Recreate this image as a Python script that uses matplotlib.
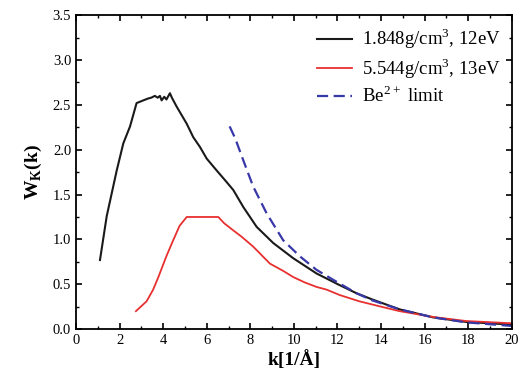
import matplotlib
matplotlib.use("Agg")
import matplotlib.pyplot as plt
from matplotlib.ticker import MultipleLocator, FormatStrFormatter

plt.rcParams['font.family'] = ['Liberation Serif', 'DejaVu Serif']
plt.rcParams['mathtext.fontset'] = 'custom'
plt.rcParams['mathtext.rm'] = 'Liberation Serif'
plt.rcParams['mathtext.bf'] = 'Liberation Serif:bold'

k_black = [1.1, 1.41, 1.87, 2.17, 2.48, 2.78, 3.09, 3.3, 3.45, 3.62, 3.75, 3.85, 3.93, 4.05,
           4.15, 4.31, 4.4, 4.62, 5.08, 5.38, 5.69, 6.0, 6.45, 6.91, 7.22, 7.68, 8.29, 9.05,
           9.97, 11.04, 12.1, 12.87, 13.6, 14.85, 16.4, 17.9, 20.0]
w_black = [0.77, 1.26, 1.77, 2.07, 2.26, 2.52, 2.55, 2.57, 2.58, 2.60, 2.58, 2.60, 2.55, 2.59,
           2.56, 2.63, 2.58, 2.48, 2.29, 2.14, 2.03, 1.90, 1.77, 1.64, 1.55, 1.36, 1.14, 0.96,
           0.79, 0.62, 0.49, 0.40, 0.33, 0.22, 0.13, 0.08, 0.05]

k_red = [2.75, 3.24, 3.54, 3.78, 4.16, 4.46, 4.75, 5.08, 5.4, 5.69, 6.0, 6.53, 6.8, 7.22, 7.6,
         8.13, 8.9, 9.5, 9.97, 10.5, 11.04, 11.5, 12.1, 13.0, 14.0, 14.85, 16.4, 17.9, 20.0]
w_red = [0.20, 0.31, 0.44, 0.58, 0.82, 0.99, 1.15, 1.25, 1.25, 1.25, 1.25, 1.25, 1.18, 1.10, 1.03,
         0.92, 0.73, 0.65, 0.58, 0.52, 0.47, 0.44, 0.38, 0.31, 0.25, 0.20, 0.135, 0.09, 0.065]

k_blue = [7.05, 7.3, 7.68, 8.13, 8.75, 9.51, 10.28, 11.04, 11.8, 12.87, 13.6, 14.85,
          16.4, 17.9, 20.0]
w_blue = [2.26, 2.13, 1.88, 1.59, 1.29, 0.99, 0.81, 0.66, 0.55, 0.40, 0.32, 0.22,
          0.13, 0.075, 0.035]

labels = [r'1.848g/cm$^3$, 12eV', r'5.544g/cm$^3$, 13eV', r'Be$^{2+}$ limit']

fig = plt.figure(figsize=(5.26, 3.89), dpi=100)
ax = fig.add_axes([0.1445, 0.154, 0.8285, 0.807])

ax.plot(k_black, w_black, color='#1a1a1a', lw=1.5, label=labels[0])
ax.plot(k_red, w_red, color='#e83030', lw=1.3, label=labels[1])
ax.plot(k_blue, w_blue, color='#3838a8', lw=1.6, ls=(0, (5, 2.5)), label=labels[2])

ax.set_xlim(0, 20)
ax.set_ylim(0, 3.5)
ax.xaxis.set_major_locator(MultipleLocator(2))
ax.xaxis.set_minor_locator(MultipleLocator(1))
ax.yaxis.set_major_locator(MultipleLocator(0.5))
ax.yaxis.set_minor_locator(MultipleLocator(0.25))
ax.yaxis.set_major_formatter(FormatStrFormatter('%.1f'))
ax.tick_params(which='both', direction='in', top=True, right=True, labelsize=10.5)
ax.tick_params(which='major', length=4, width=1.2)
ax.tick_params(which='minor', length=2, width=1)
for s in ax.spines.values():
    s.set_linewidth(1.3)

ax.set_xlabel('k[1/Å]', fontsize=14, fontweight='bold', labelpad=2)
ax.set_ylabel(r'W$_\mathbf{K}$(k)', fontsize=14, fontweight='bold', labelpad=6)

leg = ax.legend(loc='upper right', frameon=False, fontsize=13.5, handlelength=1.9,
                handletextpad=0.5, borderaxespad=0.2, labelspacing=0.25)

fig.savefig('out.png', dpi=100)
